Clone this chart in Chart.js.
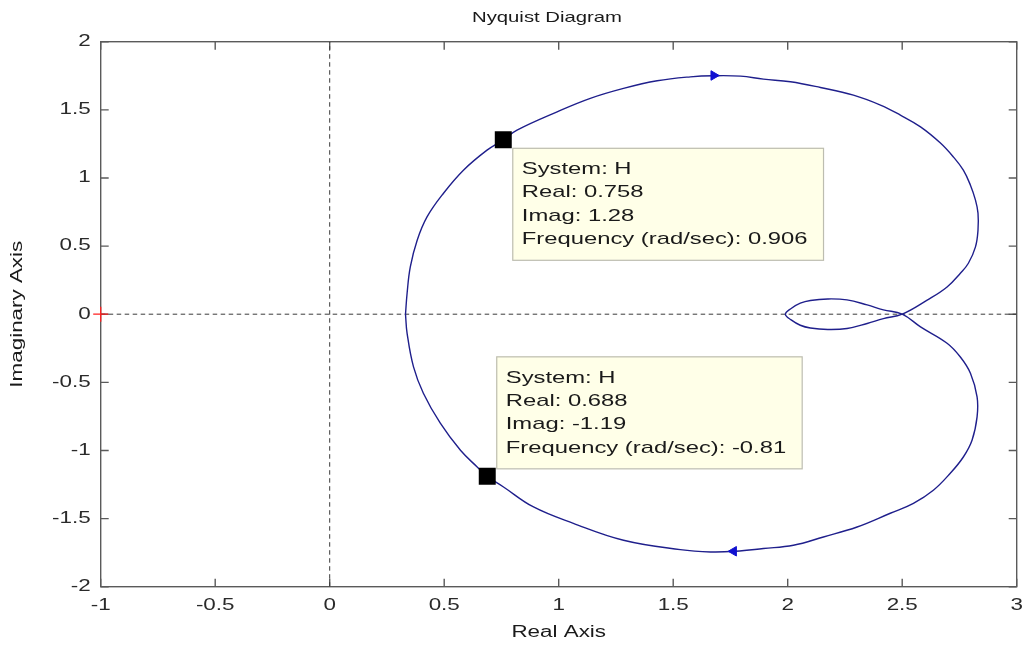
<!DOCTYPE html>
<html><head><meta charset="utf-8">
<script src="https://cdn.jsdelivr.net/npm/chart.js@4.4.0/dist/chart.umd.min.js"></script>
<style>html,body{margin:0;padding:0;background:#fff;overflow:hidden;}</style>
</head><body>
<canvas id="c" width="1022" height="645"></canvas>
<script>
// ---------- data ----------
const chartTitle = 'Nyquist Diagram';
const xAxisTitle = 'Real Axis';
const yAxisTitle = 'Imaginary Axis';
const xTickValues = [-1, -0.5, 0, 0.5, 1, 1.5, 2, 2.5, 3];
const xTickLabels = ['-1', '-0.5', '0', '0.5', '1', '1.5', '2', '2.5', '3'];
const yTickValues = [-2, -1.5, -1, -0.5, 0, 0.5, 1, 1.5, 2];
const yTickLabels = ['-2', '-1.5', '-1', '-0.5', '0', '0.5', '1', '1.5', '2'];

const curveReal = [
  0.331, 0.338, 0.352, 0.382, 0.425, 0.497, 0.584, 0.687, 0.758, 0.818, 0.993, 1.138, 1.283, 1.430,
  1.575, 1.676, 1.794, 1.894, 2.012, 2.143, 2.287, 2.405, 2.492, 2.580, 2.667, 2.724, 2.767, 2.798,
  2.820, 2.831, 2.831, 2.820, 2.789, 2.754, 2.696, 2.609, 2.500,
  2.418, 2.347, 2.259, 2.175, 2.099, 2.055, 2.015, 1.990,
  2.015, 2.055, 2.099, 2.175, 2.259, 2.347, 2.418, 2.500,
  2.580, 2.696, 2.754, 2.798, 2.827, 2.827, 2.805, 2.767, 2.710, 2.636, 2.549, 2.448, 2.303, 2.156,
  2.025, 1.894, 1.772, 1.663, 1.531, 1.283, 1.064, 0.890, 0.759, 0.688, 0.644, 0.571, 0.483, 0.409,
  0.366, 0.338, 0.331
];
const curveImag = [
  0.000, 0.154, 0.347, 0.543, 0.714, 0.888, 1.057, 1.204, 1.280, 1.351, 1.485, 1.584, 1.657, 1.713,
  1.742, 1.750, 1.747, 1.725, 1.706, 1.664, 1.608, 1.535, 1.461, 1.375, 1.256, 1.153, 1.057, 0.947,
  0.837, 0.742, 0.617, 0.494, 0.374, 0.301, 0.200, 0.103, 0.000,
  -0.032, -0.068, -0.105, -0.112, -0.101, -0.081, -0.042, 0.000,
  0.042, 0.081, 0.101, 0.112, 0.105, 0.068, 0.032, 0.000,
  -0.093, -0.213, -0.314, -0.433, -0.607, -0.754, -0.925, -1.048, -1.167, -1.292, -1.388, -1.461, -1.562, -1.635,
  -1.696, -1.720, -1.740, -1.745, -1.728, -1.659, -1.535, -1.415, -1.268, -1.190, -1.121, -0.999, -0.800, -0.580,
  -0.387, -0.140, 0.000
];
const arrowReal = [1.677, 1.764];
const arrowImag = [1.752, -1.740];
const arrowAngle = [90, -90];
const tipSystem = ['H', 'H'];
const tipReal = [0.758, 0.688];
const tipImag = [1.28, -1.19];
const tipFreq = ['0.906', '-0.81'];
const criticalReal = [-1];
const criticalImag = [0];

// ---------- text stretch (reference text is horizontally widened) ----------
const SX = 1.4;
const canvas = document.getElementById('c');
const ctx0 = canvas.getContext('2d');
const origFill = CanvasRenderingContext2D.prototype.fillText;
ctx0.fillText = function (t, x, y) {
  this.save();
  this.translate(x, y);
  this.scale(SX, 1);
  origFill.call(this, t, 0, 0);
  this.restore();
};

const FONT = "'Liberation Sans', Arial, sans-serif";
const pts = (xs, ys) => xs.map((v, i) => ({ x: v, y: ys[i] }));

// layout geometry (px)
const PAD_LEFT = 77.3;      // outer padding so the title centres like the reference
const PLOT_LEFT = 100.7;    // left edge of the plot box

// ---------- frame, inward ticks and data tips ----------
const framePlugin = {
  id: 'frame',
  beforeDatasetsDraw(chart) {
    const { ctx, chartArea: a, scales } = chart;
    ctx.save();
    ctx.strokeStyle = '#5a5a5a';
    ctx.lineWidth = 1.4;
    ctx.strokeRect(a.left, a.top, a.right - a.left, a.bottom - a.top);
    const TL = 8;
    ctx.beginPath();
    xTickValues.forEach(v => {
      const px = scales.x.getPixelForValue(v);
      ctx.moveTo(px, a.bottom); ctx.lineTo(px, a.bottom - TL);
      ctx.moveTo(px, a.top); ctx.lineTo(px, a.top + TL);
    });
    yTickValues.forEach(v => {
      const py = scales.y.getPixelForValue(v);
      ctx.moveTo(a.left, py); ctx.lineTo(a.left + TL, py);
      ctx.moveTo(a.right, py); ctx.lineTo(a.right - TL, py);
    });
    ctx.stroke();
    ctx.restore();
  },
  afterDatasetsDraw(chart) {
    const { ctx, scales } = chart;
    ctx.save();
    ctx.font = '17px ' + FONT;
    ctx.textBaseline = 'middle';
    ctx.textAlign = 'left';
    tipReal.forEach((re, i) => {
      const lines = ['System: ' + tipSystem[i], 'Real: ' + re, 'Imag: ' + tipImag[i], 'Frequency (rad/sec): ' + tipFreq[i]];
      const px = scales.x.getPixelForValue(re);
      const py = scales.y.getPixelForValue(tipImag[i]);
      const w = Math.max(...lines.map(l => ctx.measureText(l).width)) * SX + 25;
      const h = 112;
      const left = px + 9;
      const top = tipImag[i] >= 0 ? py + 8 : py - 8 - h;
      ctx.fillStyle = '#ffffe8';
      ctx.fillRect(left, top, w, h);
      ctx.strokeStyle = '#bdbdb0';
      ctx.lineWidth = 1.2;
      ctx.strokeRect(left + 0.5, top + 0.5, w, h);
      ctx.fillStyle = '#1a1a1a';
      lines.forEach((l, k) => ctx.fillText(l, left + 9.5, top + 21.5 + k * 23.4));
    });
    ctx.restore();
  }
};

new Chart(canvas, {
  type: 'scatter',
  data: {
    datasets: [
      { // dashed zero lines
        data: [{ x: xTickValues[0], y: 0 }, { x: xTickValues[xTickValues.length - 1], y: 0 }],
        showLine: true, borderColor: '#3a3a3a', borderWidth: 1, borderDash: [4.5, 3.5], pointRadius: 0, order: 6
      },
      {
        data: [{ x: 0, y: yTickValues[0] }, { x: 0, y: yTickValues[yTickValues.length - 1] }],
        showLine: true, borderColor: '#3a3a3a', borderWidth: 1, borderDash: [4.5, 3.5], pointRadius: 0, order: 5
      },
      { // Nyquist curve
        data: pts(curveReal, curveImag),
        showLine: true, borderColor: '#1f1f8c', borderWidth: 1.4, pointRadius: 0, tension: 0.4, order: 4
      },
      { // direction arrows
        data: pts(arrowReal, arrowImag),
        pointStyle: 'triangle', pointRadius: 5.5, rotation: arrowAngle,
        backgroundColor: '#1010d0', borderColor: '#1010d0', borderWidth: 1, order: 3
      },
      { // data tip markers
        data: pts(tipReal, tipImag),
        pointStyle: 'rect', pointRadius: 12, backgroundColor: '#000', borderWidth: 0, order: 2
      },
      { // critical point
        data: pts(criticalReal, criticalImag),
        pointStyle: 'cross', pointRadius: 7.5, borderColor: '#ff2020', borderWidth: 1.3, clip: false, order: 1
      }
    ]
  },
  options: {
    responsive: false,
    devicePixelRatio: 1,
    animation: false,
    events: [],
    layout: { autoPadding: false, padding: { left: PAD_LEFT, right: 5.3, top: 0, bottom: 0 } },
    plugins: {
      legend: { display: false },
      tooltip: { enabled: false },
      title: {
        display: true, text: chartTitle, color: '#1a1a1a', fullSize: true,
        font: { family: FONT, size: 14.5, weight: 'normal' },
        padding: { top: 9, bottom: 15.3 }
      }
    },
    scales: {
      x: {
        type: 'linear', position: 'bottom', min: -1, max: 3,
        grid: { display: false, drawTicks: false }, border: { display: false },
        afterBuildTicks: s => { s.ticks = xTickValues.map(v => ({ value: v })); },
        afterFit: s => { s.height = 58.3; s.paddingLeft = 0; s.paddingRight = 0; },
        ticks: {
          color: '#2a2a2a', font: { family: FONT, size: 16 }, padding: 9,
          maxRotation: 0, autoSkip: false,
          callback: (v) => xTickLabels[xTickValues.indexOf(v)]
        },
        title: { display: true, text: xAxisTitle, color: '#1a1a1a', font: { family: FONT, size: 16 }, padding: { top: 0, bottom: 3 } }
      },
      y: {
        type: 'linear', position: 'left', min: -2, max: 2,
        grid: { display: false, drawTicks: false }, border: { display: false },
        afterBuildTicks: s => { s.ticks = yTickValues.map(v => ({ value: v })); },
        afterFit: s => {
          s.width = PLOT_LEFT - PAD_LEFT; s.paddingTop = 0; s.paddingBottom = 0;
          s._computeLabelArea = () => null;   // let tick labels extend past the narrow axis box
        },
        ticks: {
          color: '#2a2a2a', font: { family: FONT, size: 16 }, padding: 10, autoSkip: false,
          callback: (v) => yTickLabels[yTickValues.indexOf(v)]
        },
        title: { display: true, text: yAxisTitle, color: '#1a1a1a', font: { family: FONT, size: 16 }, padding: { top: 8 - PAD_LEFT, bottom: 0 } }
      }
    }
  },
  plugins: [framePlugin]
});
</script>
</body></html>
